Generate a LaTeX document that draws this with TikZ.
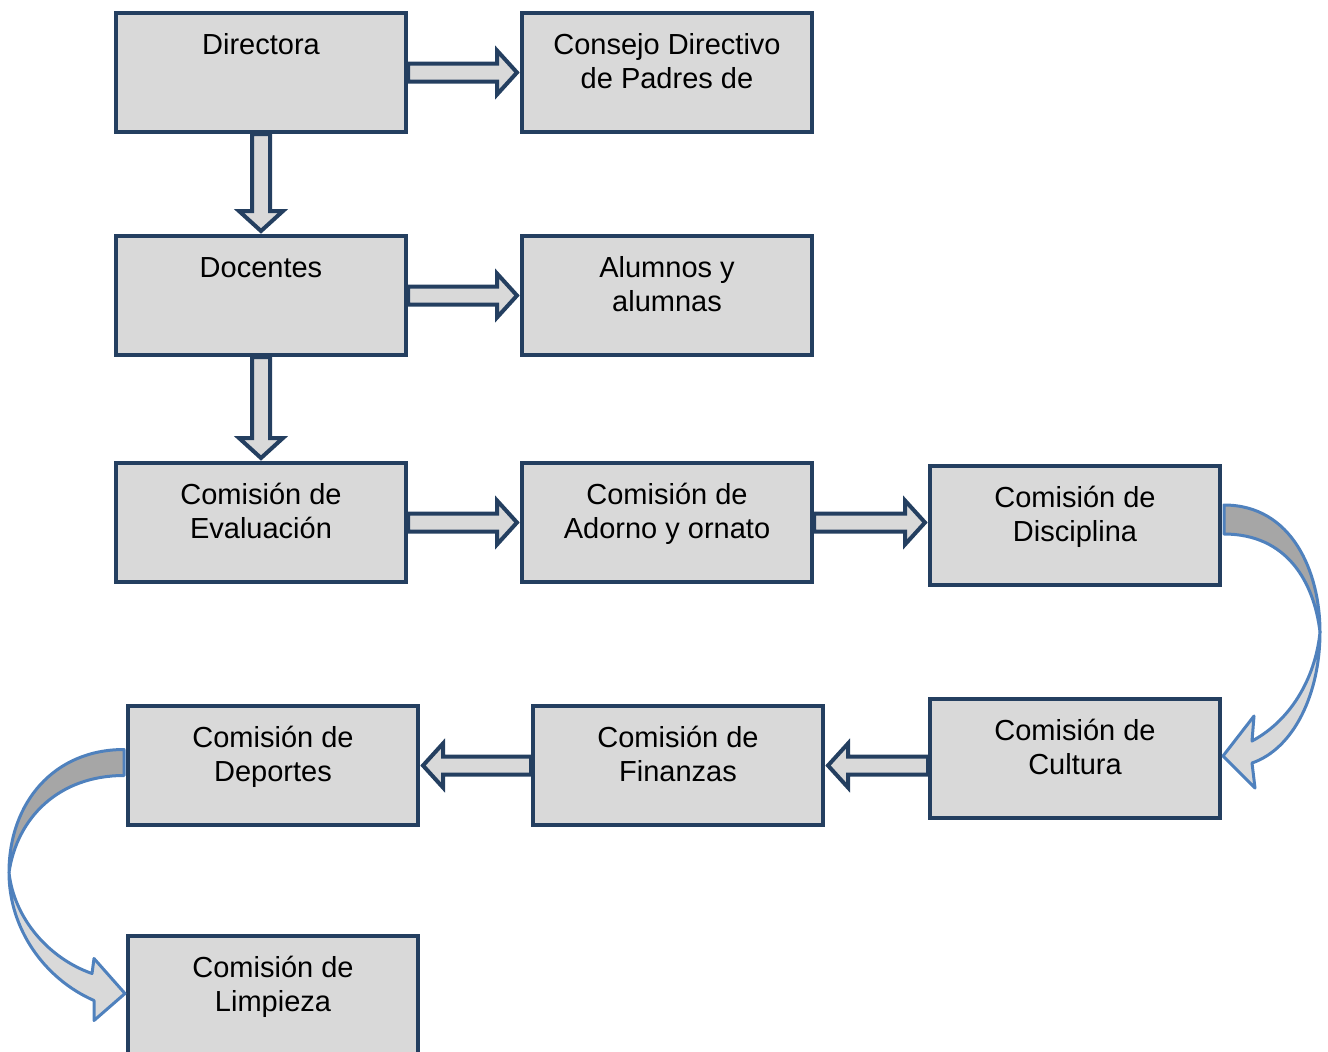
\documentclass[tikz,border=0pt]{standalone}
\usepackage{fontspec}
\setmainfont{Liberation Sans}
\usetikzlibrary{positioning,calc}
\definecolor{navy}{HTML}{243F60}
\definecolor{boxgray}{HTML}{D9D9D9}
\definecolor{curveblue}{HTML}{4F81BD}
\definecolor{backgray}{HTML}{A6A6A6}
\tikzset{
	>=latex,
}

\begin{document}
\begin{tikzpicture}[
		x=0.5pt, y=-0.5pt,
		box/.style={
			draw=navy, fill=boxgray, line width=2pt,
			minimum width=145pt, minimum height=59.5pt, inner sep=0pt,
			font=\fontsize{14.5pt}{17.25pt}\selectfont,
		},
		blockarr/.style={draw=navy, fill=boxgray, line width=2pt, line join=miter},
		curvearr/.style={draw=curveblue, line width=1.5pt, line join=round},
		node distance=50pt and 56pt,
	]
	\useasboundingbox (0,0) rectangle (1328,1051);
	\def\boxtxt#1{\parbox[t][42.5pt][t]{140pt}{\centering\strut #1}}
	\def\blockarrow#1#2{%
		\coordinate (s) at (#1);
		\coordinate (t) at ($(#2)!1.5pt!(s)$);
		\coordinate (h) at ($(t)!10pt!(s)$);
		\draw[blockarr] ($(s)!4.5pt!90:(t)$) -- ($(h)!4.5pt!-90:(s)$)
			-- ($(h)!11pt!-90:(s)$) -- (t) -- ($(h)!11pt!90:(s)$)
			-- ($(h)!4.5pt!90:(s)$) -- ($(s)!4.5pt!-90:(t)$) -- cycle;}
		\draw
			node(dir)[box] at (261,72.5) {\boxtxt{Directora}}
			node(cons)[box,right=of dir]{\boxtxt{Consejo Directivo\\de Padres de}}
			node(doc)[box,below=of dir]{\boxtxt{Docentes}}
			node(alu)[box,right=of doc]{\boxtxt{Alumnos y\\alumnas}}
			node(eva)[box,below=52pt of doc]{\boxtxt{Comisión de\\Evaluación}}
			node(ado)[box,right=of eva]{\boxtxt{Comisión de\\Adorno y ornato}}
			node(dis)[box,right=57pt of ado,yshift=-1.5pt]{\boxtxt{Comisión de\\Disciplina}}
			node(cul)[box,below=55pt of dis]{\boxtxt{Comisión de\\Cultura}}
			node(fin)[box,left=51.5pt of cul,yshift=-3.5pt]{\boxtxt{Comisión de\\Finanzas}}
			node(dep)[box,left=55.5pt of fin]{\boxtxt{Comisión de\\Deportes}}
			node(lim)[box,below=53.5pt of dep]{\boxtxt{Comisión de\\Limpieza}}
		;
		\blockarrow{dir.east}{cons.west}
		\blockarrow{dir.south}{doc.north}
		\blockarrow{doc.east}{alu.west}
		\blockarrow{doc.south}{eva.north}
		\blockarrow{eva.east}{ado.west}
		\blockarrow{ado.east}{dis.west |- ado.east}
		\blockarrow{cul.west |- fin.east}{fin.east}
		\blockarrow{fin.west}{dep.east}
		% dis -> cul
		\coordinate (far1) at ($(dis.east)+(98,106.5)$);
		\draw[curvearr,fill=backgray] ($(dis.east)+(2,-20.5)$)
			.. controls ($(dis.east)+(70,-20.5)$) and ($(dis.east)+(98,46.5)$) .. (far1)
			.. controls ($(dis.east)+(92,56.5)$) and ($(dis.east)+(65,8.5)$) .. ($(dis.east)+(2,8.5)$) -- cycle;
		\draw[curvearr,fill=boxgray] (far1)
			.. controls ($(cul.east)+(98,-65)$) and ($(cul.east)+(72,-10)$) .. ($(cul.east)+(30,4.5)$)
			-- ($(cul.east)+(33,29.5)$) -- ($(cul.east)+(1,-2.5)$) -- ($(cul.east)+(32,-42.5)$)
			-- ($(cul.east)+(30,-17.5)$)
			.. controls ($(cul.east)+(72,-40)$) and ($(cul.east)+(94,-85)$) .. (far1) -- cycle;
		% dep -> lim
		\coordinate (far2) at ($(dep.west)+(-117,107)$);
		\draw[curvearr,fill=backgray] ($(dep.west)+(-2,-16)$)
			.. controls ($(dep.west)+(-72,-16)$) and ($(dep.west)+(-117,37)$) .. (far2)
			.. controls ($(dep.west)+(-109,52)$) and ($(dep.west)+(-67,10)$) .. ($(dep.west)+(-2,10)$) -- cycle;
		\draw[curvearr,fill=boxgray] (far2)
			.. controls ($(lim.west)+(-117,-67)$) and ($(lim.west)+(-82,-17)$) .. ($(lim.west)+(-32,5)$)
			-- ($(lim.west)+(-32,25)$) -- ($(lim.west)+(-1,-2)$) -- ($(lim.west)+(-32,-37)$)
			-- ($(lim.west)+(-34,-22)$)
			.. controls ($(lim.west)+(-77,-37)$) and ($(lim.west)+(-112,-77)$) .. (far2) -- cycle;
	\end{tikzpicture}
\end{document}
